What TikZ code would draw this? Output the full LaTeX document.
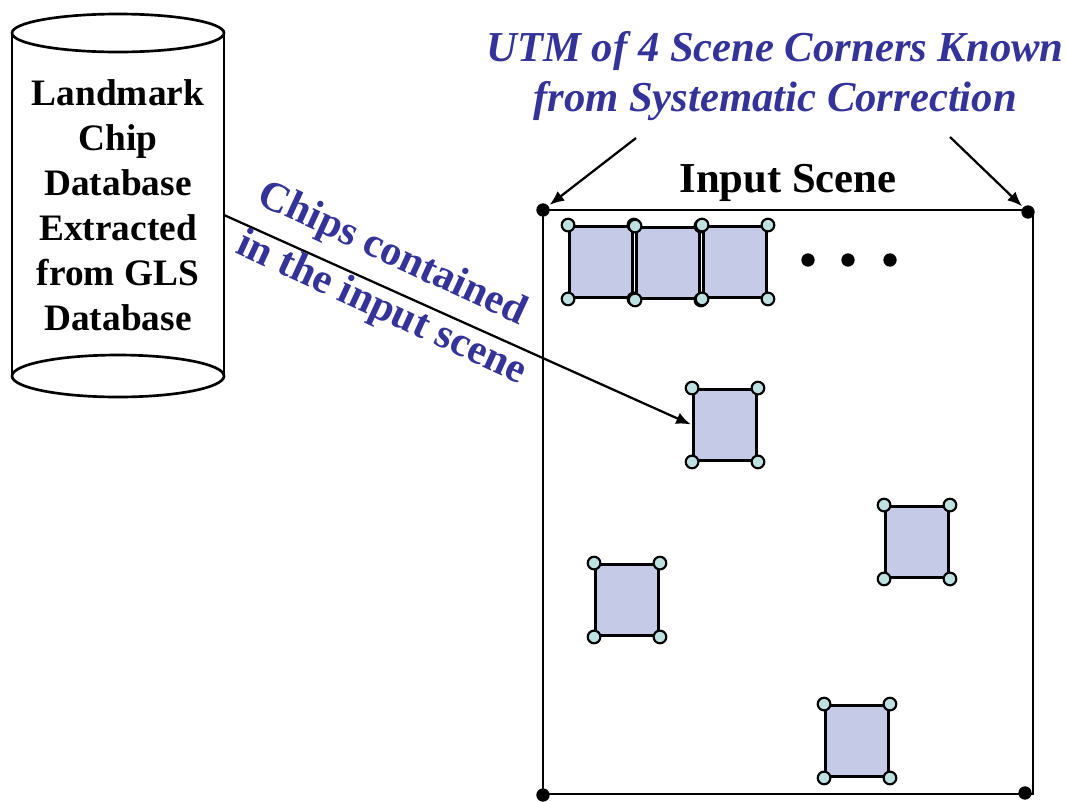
\documentclass[tikz,border=0pt]{standalone}
\usepackage{fontspec}
\setmainfont{Liberation Serif}
\usetikzlibrary{arrows.meta}
\definecolor{labelblue}{RGB}{51,51,153}
\definecolor{chipfill}{RGB}{197,203,230}
\definecolor{cornerfill}{RGB}{190,224,224}
\tikzset{
  outline/.style={line width=2pt},
  chip/.style={draw, line width=2.4pt, fill=chipfill, minimum width=47pt, minimum height=53pt, inner sep=0pt},
  corner/.style={circle, draw, line width=1.6pt, fill=cornerfill, minimum size=9.5pt, inner sep=0pt},
  cdot/.style={circle, fill=black, minimum size=10pt, inner sep=0pt},
  pointer/.style={line width=1.7pt, shorten >=1pt, -{Latex[length=11pt,width=9pt]}},
  dbtext/.style={font=\bfseries\fontsize{28}{33.75}\selectfont, align=center},
  bluetext/.style={text=labelblue, font=\bfseries\fontsize{31.5}{35}\selectfont},
}
\begin{document}
\begin{tikzpicture}[x=0.75pt,y=-0.75pt]
\useasboundingbox (0,0) rectangle (1066,801);

% database cylinder
\draw[outline] (12,33) -- (12,376);
\draw[outline] (224,33) -- (224,376);
\draw[outline, fill=white] (118,33) ellipse [x radius=106, y radius=19];
\draw[outline] (118,376) ellipse [x radius=106, y radius=21];
\node[dbtext] (db) at (118,205) {Landmark\\Chip\\Database\\Extracted\\from GLS\\Database};
\coordinate (dbout) at (224,215);

% input scene frame
\draw[outline] (543,210) rectangle (1033,794);
\node[cdot] (tl) at (543,210) {};
\node[cdot] (tr) at (1028,212) {};
\node[cdot] (bl) at (543,795) {};
\node[cdot] (br) at (1025,793) {};
\node[font=\bfseries\fontsize{32}{36}\selectfont] (title) at (788,183) {Input Scene};

% corner coordinates label
\node[text=labelblue, font=\bfseries\itshape\fontsize{32}{38}\selectfont, align=center] (utm) at (775,76)
  {UTM of 4 Scene Corners Known\\from Systematic Correction};
\coordinate (a1) at (636,138);
\coordinate (a2) at (950,137);
\draw[pointer] (a1) -- (tl);
\draw[pointer] (a2) -- (tr);

% landmark chips with their corner points
\foreach \n/\x/\y in {c1/601/262, c2/668/263, c3/735/262, c4/725/425, c5/917/542, c6/627/600, c7/857/741}{
  \node[chip] (\n) at (\x,\y) {};
  \foreach \a in {north west, north east, south west, south east}
    \node[corner] at (\n.\a) {};
}

% more chips along the top row
\foreach \x [count=\i] in {808,848,890}
  \node[cdot, minimum size=10pt] (m\i) at (\x,260) {};

% chips contained in the scene
\draw[pointer] (dbout) -- (c4.west);
\node[bluetext, rotate=-24.8] (lab1) at (392,255) {Chips contained};
\node[bluetext, rotate=-24.8] (lab2) at (381,309) {in the input scene};
\end{tikzpicture}
\end{document}
